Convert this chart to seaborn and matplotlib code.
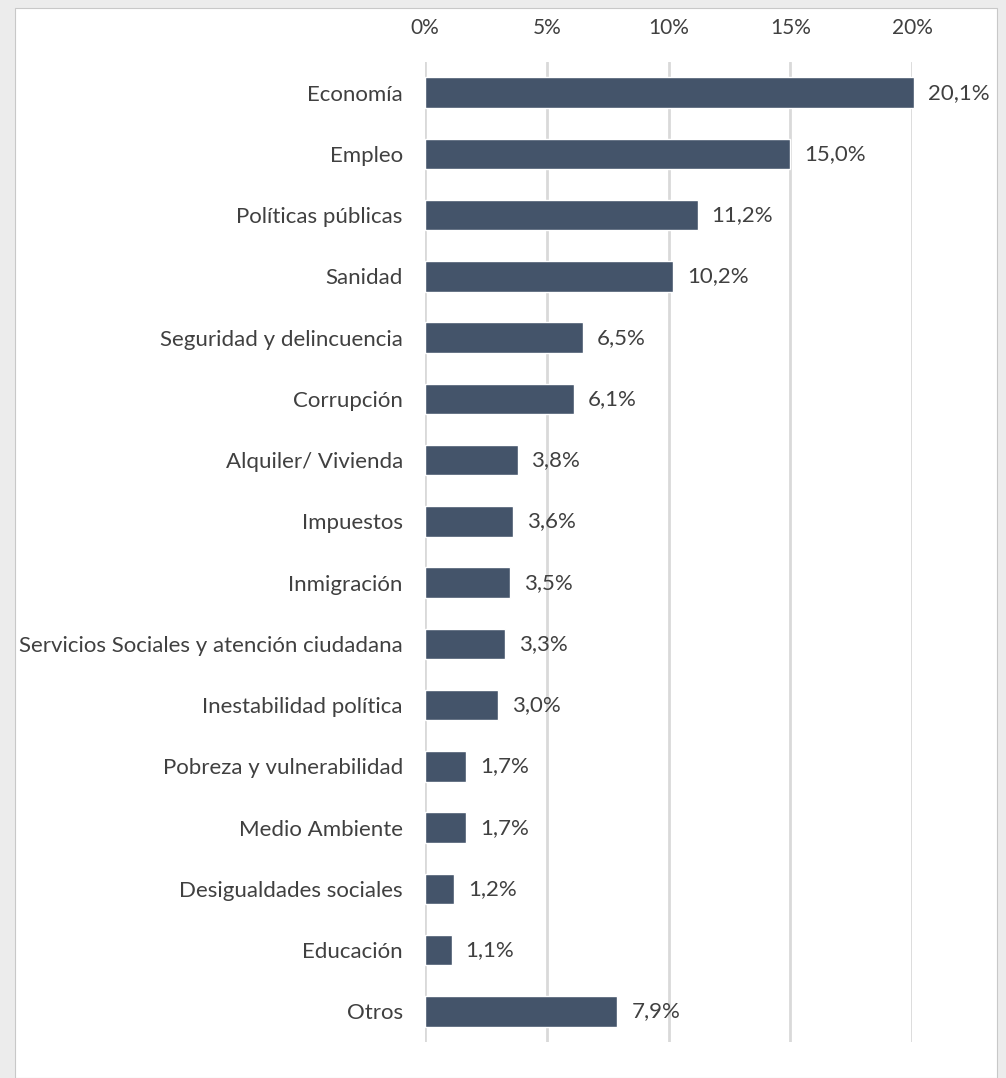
import pandas as pd
import seaborn as sns
import matplotlib.pyplot as plt
from matplotlib.patches import Rectangle
from matplotlib.ticker import PercentFormatter

categorias = ["Economía", "Empleo", "Políticas públicas", "Sanidad",
              "Seguridad y delincuencia", "Corrupción", "Alquiler/ Vivienda",
              "Impuestos", "Inmigración", "Servicios Sociales y atención ciudadana",
              "Inestabilidad política", "Pobreza y vulnerabilidad", "Medio Ambiente",
              "Desigualdades sociales", "Educación", "Otros"]
valores = [20.1, 15.0, 11.2, 10.2, 6.5, 6.1, 3.8, 3.6, 3.5, 3.3, 3.0, 1.7, 1.7, 1.2, 1.1, 7.9]
ticks = [0, 5, 10, 15, 20]

df = pd.DataFrame({"categoria": categorias, "valor": valores})

sns.set_style("white")
plt.rcParams['font.family'] = ['Lato', 'DejaVu Sans']
texto = "#404040"

fig = plt.figure(figsize=(10.06, 10.78), dpi=100)
fig.patch.set_facecolor("#ececec")
# white chart area with the light frame round it
fig.add_artist(Rectangle((15 / 1006, 0), (997 - 15) / 1006, (1078 - 8) / 1078,
                         transform=fig.transFigure, facecolor="white",
                         edgecolor="#c8c8c8", linewidth=0.8, zorder=0))

ax = fig.add_axes([425 / 1006, 1 - 1042 / 1078, (912 - 425) / 1006, (1042 - 62) / 1078])
sns.barplot(data=df, x="valor", y="categoria", color="#44546A", width=0.5,
            saturation=1, ax=ax, zorder=3)
for p in ax.patches:
    p.set_clip_on(False)

ax.set_xlim(0, 20)
ax.set_xticks(ticks)
ax.xaxis.set_major_formatter(PercentFormatter(decimals=0))
ax.xaxis.tick_top()
ax.tick_params(axis="x", length=0, pad=17, labelsize=15, labelcolor=texto)
ax.tick_params(axis="y", length=0, pad=16, labelsize=16, labelcolor=texto)
ax.grid(axis="x", color="#d9d9d9", linewidth=2)
ax.set_axisbelow(True)
for s in ax.spines.values():
    s.set_visible(False)
ax.set_xlabel("")
ax.set_ylabel("")
ax.set_facecolor("none")

labels = [f"{v:.1f}%".replace(".", ",") for v in valores]
txts = ax.bar_label(ax.containers[0], labels=labels, padding=10, fontsize=16, color=texto)
for t in txts:
    t.set_annotation_clip(False)

fig.savefig("out.png", dpi=100, facecolor=fig.get_facecolor())
